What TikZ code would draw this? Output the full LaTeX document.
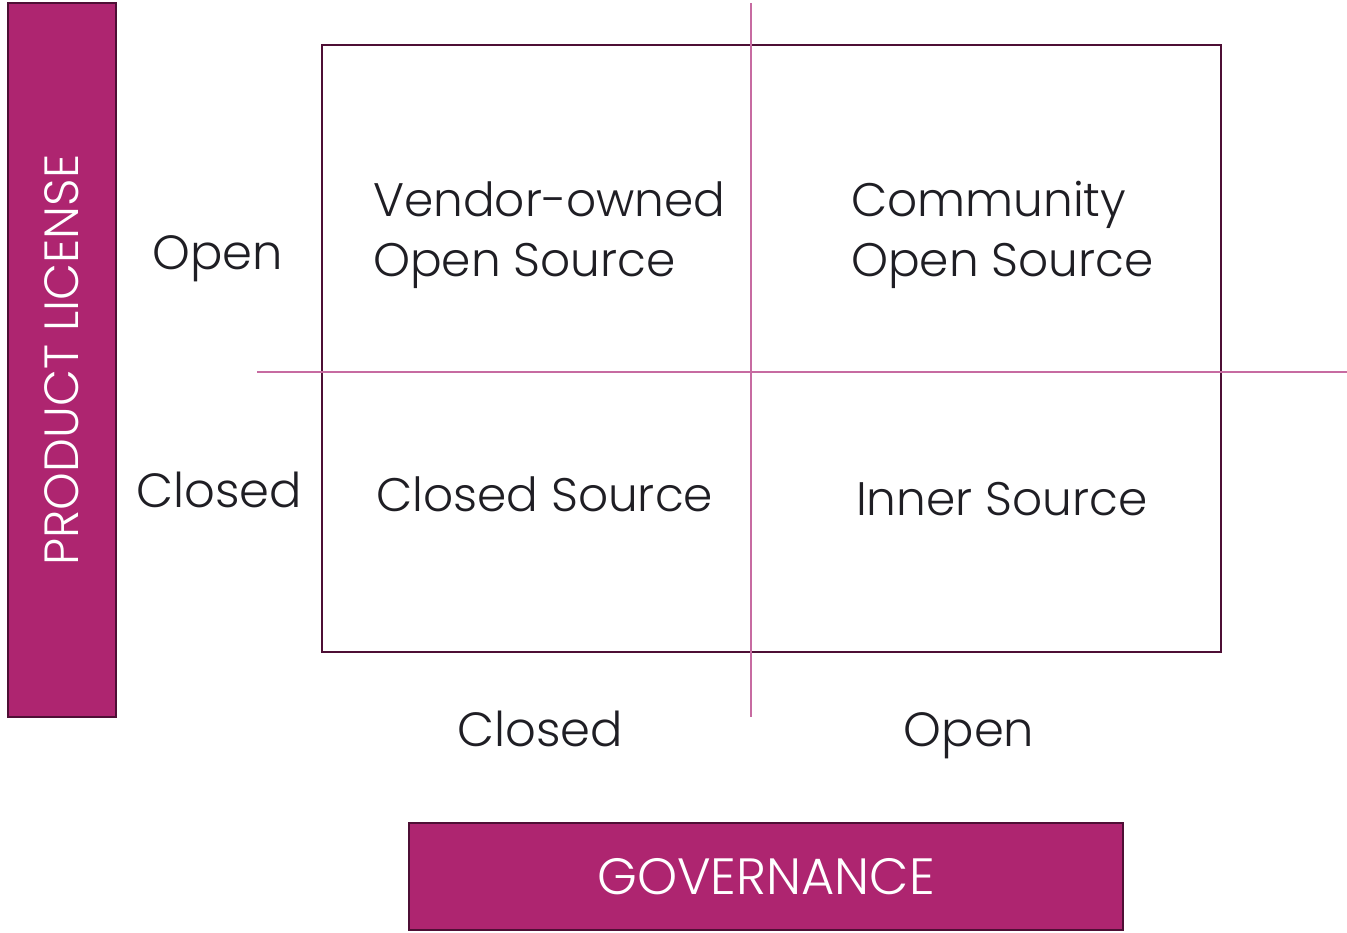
\documentclass[tikz,border=0pt]{standalone}
\usepackage{fontspec}
\setmainfont{Poppins}[UprightFont=* Light]
\definecolor{mag}{HTML}{AE2570}
\definecolor{magdark}{HTML}{4E0F35}
\definecolor{axisc}{HTML}{C76BA1}
\definecolor{txt}{HTML}{1F1E24}
\tikzset{
  bigfont/.style={font=\fontsize{48}{58}\selectfont},
  qfont/.style={font=\fontsize{47}{58}\selectfont},
  bar/.style={draw=magdark, line width=2.5pt, fill=mag, text=white, bigfont, inner sep=0pt},
  lbl/.style={text=txt, bigfont, inner sep=0pt},
  qlbl/.style={text=txt, qfont, inner sep=0pt, anchor=base west},
  framebox/.style={draw=magdark, line width=2pt, inner sep=0pt},
  axisline/.style={draw=axisc, line width=1.5pt}
}
\begin{document}
\begin{tikzpicture}[x=1pt,y=-1pt]
\useasboundingbox (0,0) rectangle (1347,933);
% axis lines
\coordinate (vt) at (751,3);
\coordinate (vb) at (751,717);
\coordinate (hl) at (257,372);
\coordinate (hr) at (1347,372);
% frame
\node[framebox, minimum width=899pt, minimum height=607pt] (frame) at (771.5,348.5) {};
\draw[axisline] (vt) -- (vb);
\draw[axisline] (hl) -- (hr);
% bars
\node[bar, rotate=90, minimum width=714pt, minimum height=108pt] (lic) at (62,360) {PRODUCT LICENSE};
\node[bar, minimum width=714pt, minimum height=107pt, font=\fontsize{51}{60}\selectfont] (gov) at (766,876.5) {GOVERNANCE};
% row labels
\node[lbl, anchor=base] (ropen) at (218,270) {Open};
\node[lbl, anchor=base] (rclosed) at (219,507) {Closed};
% column labels
\node[lbl, anchor=base] (cclosed) at (540,746) {Closed};
\node[lbl, anchor=base] (copen) at (969,746) {Open};
% quadrant texts
\node[qlbl] (q1a) at (373,217) {Vendor-owned};
\node[qlbl] (q1b) at (373,277) {Open Source};
\node[qlbl] (q2a) at (851,217) {Community};
\node[qlbl] (q2b) at (851,277) {Open Source};
\node[qlbl] (q3) at (376,511) {Closed Source};
\node[qlbl] (q4) at (856,515) {Inner Source};
\end{tikzpicture}
\end{document}
